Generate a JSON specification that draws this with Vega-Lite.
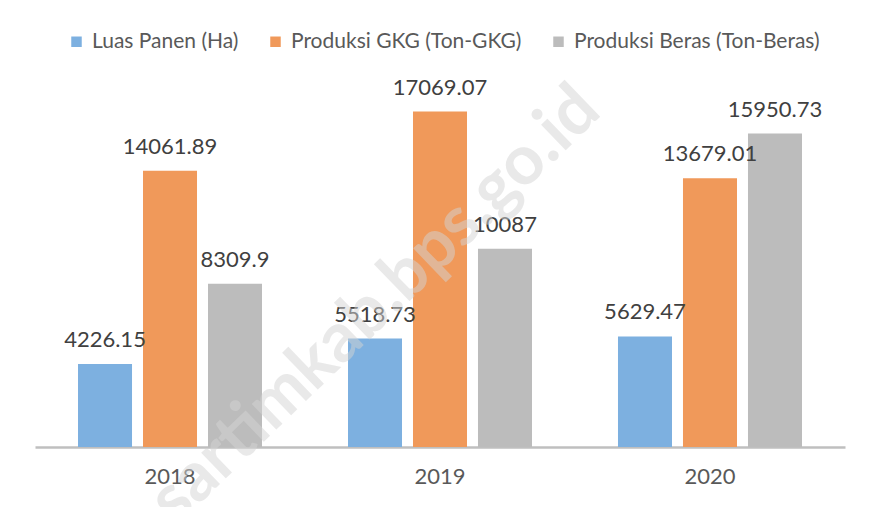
{
  "$schema": "https://vega.github.io/schema/vega-lite/v6.json",
  "width": 810,
  "height": 393,
  "autosize": {"type": "none"},
  "padding": {"left": 35, "top": 54, "right": 27, "bottom": 60},
  "background": "white",
  "config": {
    "view": {"stroke": null},
    "font": "Lato",
    "text": {"font": "Lato"}
  },
  "datasets": {
    "bars": [
      {"year": "2018", "series": "Luas Panen (Ha)", "value": 4226.15, "label": "4226.15"},
      {"year": "2018", "series": "Produksi GKG (Ton-GKG)", "value": 14061.89, "label": "14061.89"},
      {"year": "2018", "series": "Produksi Beras (Ton-Beras)", "value": 8309.9, "label": "8309.9"},
      {"year": "2019", "series": "Luas Panen (Ha)", "value": 5518.73, "label": "5518.73"},
      {"year": "2019", "series": "Produksi GKG (Ton-GKG)", "value": 17069.07, "label": "17069.07"},
      {"year": "2019", "series": "Produksi Beras (Ton-Beras)", "value": 10087, "label": "10087"},
      {"year": "2020", "series": "Luas Panen (Ha)", "value": 5629.47, "label": "5629.47"},
      {"year": "2020", "series": "Produksi GKG (Ton-GKG)", "value": 13679.01, "label": "13679.01"},
      {"year": "2020", "series": "Produksi Beras (Ton-Beras)", "value": 15950.73, "label": "15950.73"}
    ],
    "wm": [
      {"year": "2019", "value": 7230, "text": "sartimkab.bps.go.id"}
    ]
  },
  "layer": [
    {
      "data": {"name": "bars"},
      "mark": {"type": "bar"},
      "encoding": {
        "x": {
          "field": "year", "type": "nominal",
          "scale": {"paddingInner": 0.3185, "paddingOuter": 0.1593},
          "axis": {
            "title": null, "labelAngle": 0, "ticks": false,
            "domainColor": "#bfbfbf", "domainWidth": 2.5,
            "labelFontSize": 22, "labelColor": "#595959", "labelPadding": 19, "labelFont": "Lato"
          }
        },
        "xOffset": {
          "field": "series", "type": "nominal",
          "sort": ["Luas Panen (Ha)", "Produksi GKG (Ton-GKG)", "Produksi Beras (Ton-Beras)"],
          "scale": {"paddingInner": 0.169, "paddingOuter": 0}
        },
        "y": {
          "field": "value", "type": "quantitative",
          "scale": {"domain": [0, 20000], "nice": false},
          "axis": null
        },
        "color": {
          "field": "series", "type": "nominal",
          "scale": {
            "domain": ["Luas Panen (Ha)", "Produksi GKG (Ton-GKG)", "Produksi Beras (Ton-Beras)"],
            "range": ["#7db0e0", "#f0995a", "#bcbcbc"]
          },
          "legend": {
            "title": null, "orient": "none", "direction": "horizontal",
            "legendX": 31, "legendY": -23,
            "symbolType": "square", "symbolSize": 110, "symbolStrokeWidth": 0,
            "labelFontSize": 21, "labelColor": "#595959", "labelFont": "Lato",
            "labelOffset": 5, "columnPadding": 26, "labelLimit": 400
          }
        }
      }
    },
    {
      "data": {"name": "bars"},
      "mark": {"type": "text", "baseline": "alphabetic", "dy": -17, "fontSize": 22, "color": "#404040", "font": "Lato"},
      "encoding": {
        "x": {"field": "year", "type": "nominal"},
        "xOffset": {
          "field": "series", "type": "nominal",
          "sort": ["Luas Panen (Ha)", "Produksi GKG (Ton-GKG)", "Produksi Beras (Ton-Beras)"]
        },
        "y": {"field": "value", "type": "quantitative"},
        "text": {"field": "label", "type": "nominal"}
      }
    },
    {
      "data": {"name": "wm"},
      "mark": {"type": "text", "angle": 316, "fontSize": 69, "fontWeight": "bold", "color": "#d4d4d4", "opacity": 0.5, "dx": -47, "dy": -45, "font": "Lato"},
      "encoding": {
        "x": {"field": "year", "type": "nominal"},
        "y": {"field": "value", "type": "quantitative"},
        "text": {"field": "text", "type": "nominal"}
      }
    }
  ]
}
